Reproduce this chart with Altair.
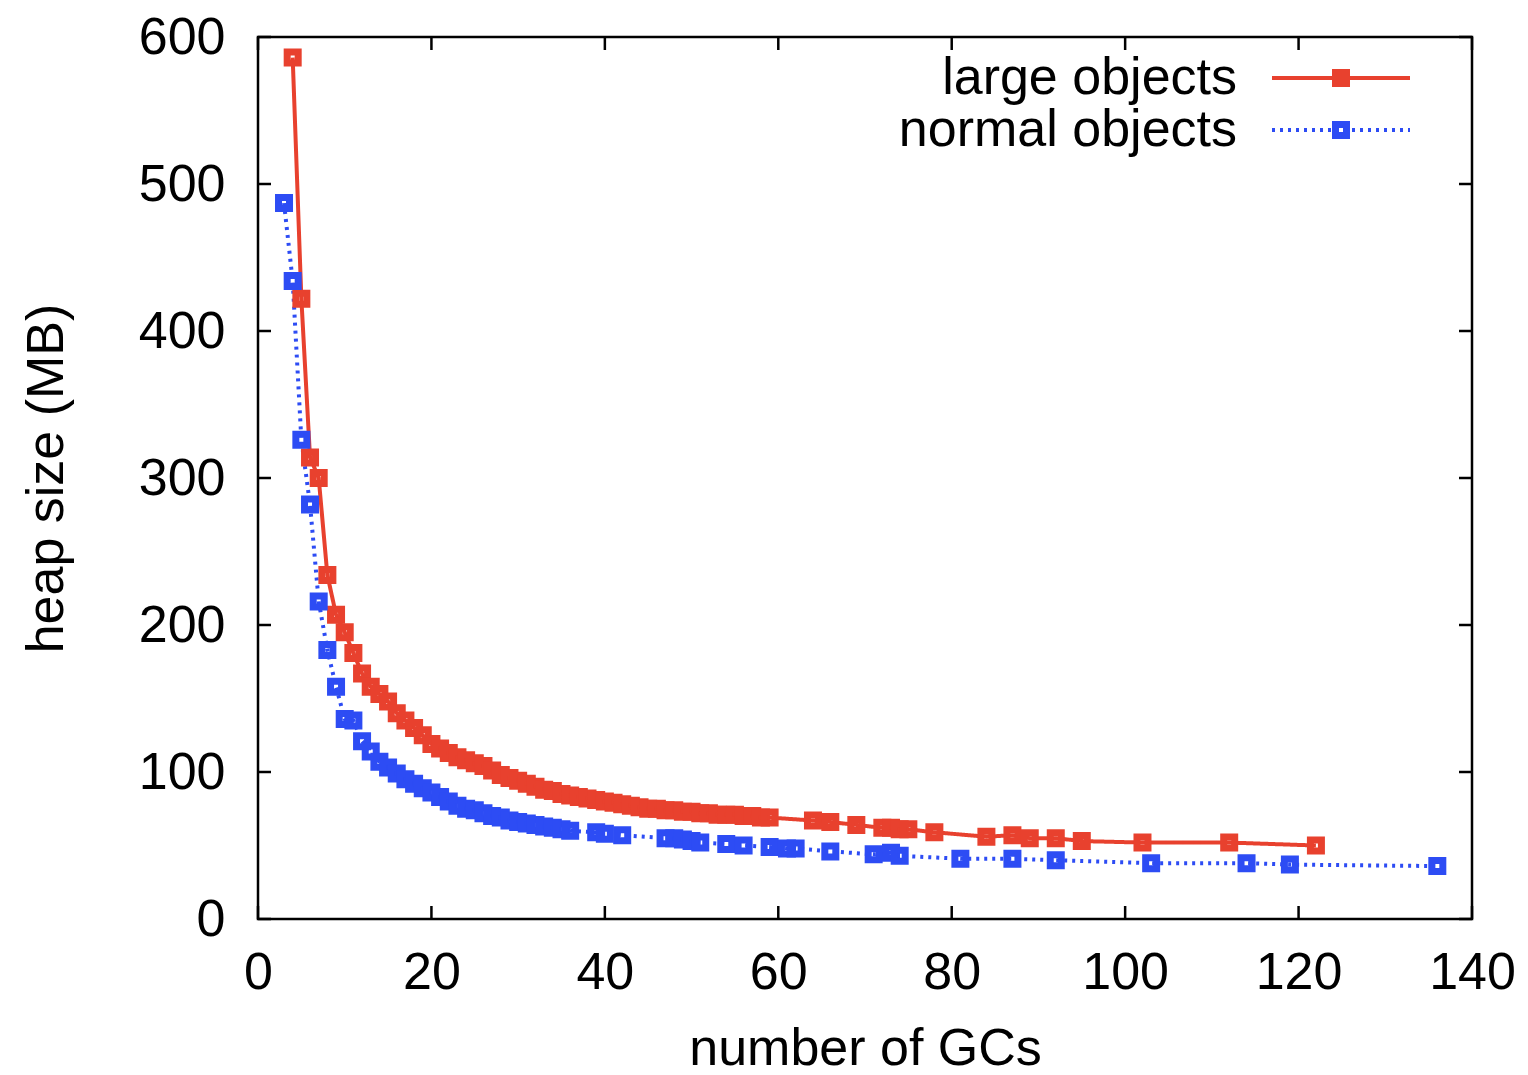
import altair as alt
import pandas as pd

# ---------------- data ----------------
series_names = ["large objects", "normal objects"]
series_colors = ["#e8412e", "#2d4cf4"]
series_dashes = [[1, 0], [3, 5]]

large_gcs = [4, 5, 6, 7, 8, 9, 10, 11, 12, 13,
             14, 15, 16, 17, 18, 19, 20, 21, 22, 23,
             24, 25, 26, 27, 28, 29, 30, 31, 32, 33,
             34, 35, 36, 37, 38, 39, 40, 41, 42, 43,
             44, 45, 46, 47, 48, 49, 50, 51, 52, 53,
             54, 55, 56, 57, 58, 59,
             64, 66, 69, 72, 73, 74, 75, 78, 84, 87, 89, 92, 95, 102, 112, 122]
large_heap = [586, 422, 314, 300, 234, 207, 195, 181, 167, 158,
              153, 148, 140, 135, 130, 125, 119, 116, 113, 110,
              108, 106, 104, 101, 98, 96, 94, 92, 90, 88,
              87, 85, 84, 83, 82, 81, 80, 79, 78, 77,
              76, 75, 75, 74, 74, 73, 73, 72, 72, 71,
              71, 71, 70, 70, 69, 69,
              67, 66, 64, 62, 62, 61, 61, 59, 56, 57, 55, 55, 53, 52, 52, 50]

normal_gcs = [3, 4, 5, 6, 7, 8, 9, 10, 11, 12,
              13, 14, 15, 16, 17, 18, 19, 20, 21, 22,
              23, 24, 25, 26, 27, 28, 29, 30, 31, 32,
              33, 34, 35, 36,
              39, 40, 42, 47, 48, 49, 50, 51, 54, 56, 59, 61, 62, 66, 71, 73, 74,
              81, 87, 92, 103, 114, 119, 136]
normal_heap = [487, 434, 326, 282, 216, 183, 158, 136, 135, 121,
               114, 107, 103, 99, 95, 92, 89, 86, 83, 80,
               77, 75, 74, 72, 70, 69, 67, 66, 65, 64,
               63, 62, 61, 60,
               59, 58, 57, 55, 55, 54, 53, 52, 51, 50, 49, 48, 48, 46, 44, 45, 43,
               41, 41, 40, 38, 38, 37, 36]

x_ticks = [0, 20, 40, 60, 80, 100, 120, 140]
y_ticks = [0, 100, 200, 300, 400, 500, 600]

df = pd.concat([
    pd.DataFrame({"gcs": large_gcs, "heap": large_heap, "series": series_names[0]}),
    pd.DataFrame({"gcs": normal_gcs, "heap": normal_heap, "series": series_names[1]}),
], ignore_index=True)

# ---------------- style ----------------
W, H = 1214, 882
FONT = "Liberation Sans"
FS = 52
TICK = 13
LINE_W = 4
PT_SIZE = 121
PT_STROKE = 7

x_scale = alt.Scale(domain=[0, 140], nice=False, zero=False)
y_scale = alt.Scale(domain=[0, 600], nice=False)
color_scale = alt.Scale(domain=series_names, range=series_colors)
dash_scale = alt.Scale(domain=series_names, range=series_dashes)

x_axis = alt.Axis(
    title="number of GCs", values=x_ticks, format="d", tickSize=0, domain=False, grid=False,
    labelFont=FONT, labelFontSize=FS, labelColor="black", labelPadding=28,
    labelOverlap=False, labelFlush=False,
    titleFont=FONT, titleFontSize=FS, titleFontWeight="normal", titleColor="black",
    titlePadding=25,
)
y_axis = alt.Axis(
    title="heap size (MB)", values=y_ticks, format="d", tickSize=0, domain=False, grid=False,
    labelFont=FONT, labelFontSize=FS, labelColor="black", labelPadding=33,
    labelOverlap=False, labelFlush=False,
    titleFont=FONT, titleFontSize=FS, titleFontWeight="normal", titleColor="black",
    titlePadding=65,
)

X = alt.X("gcs:Q", scale=x_scale, axis=x_axis)
Y = alt.Y("heap:Q", scale=y_scale, axis=y_axis)

base = alt.Chart(df).encode(x=X, y=Y)

lines = base.mark_line(strokeWidth=LINE_W, strokeCap="butt").encode(
    color=alt.Color("series:N", scale=color_scale, legend=None),
    strokeDash=alt.StrokeDash("series:N", scale=dash_scale, legend=None),
    detail="series:N",
)

points = base.mark_point(shape="square", filled=False, size=PT_SIZE,
                         strokeWidth=PT_STROKE, opacity=1).encode(
    color=alt.Color("series:N", scale=color_scale, legend=None),
)

# inward ticks on all four sides (gnuplot style), placed by the same scales
xt = pd.DataFrame({"gcs": x_ticks})
yt = pd.DataFrame({"heap": y_ticks})
tick_style = dict(color="black", strokeWidth=2.5)

bottom_ticks = alt.Chart(xt).mark_rule(**tick_style).encode(
    x=X, y=alt.value(H), y2=alt.value(H - TICK))
top_ticks = alt.Chart(xt).mark_rule(**tick_style).encode(
    x=X, y=alt.value(0), y2=alt.value(TICK))
left_ticks = alt.Chart(yt).mark_rule(**tick_style).encode(
    y=Y, x=alt.value(0), x2=alt.value(TICK))
right_ticks = alt.Chart(yt).mark_rule(**tick_style).encode(
    y=Y, x=alt.value(W), x2=alt.value(W - TICK))

# gnuplot-style key in the top-right corner: right-aligned label, then sample
KEY_TEXT_X, KEY_X1, KEY_X2, KEY_Y0, KEY_DY = 979, 1014, 1152, 41, 52
key_layers = []
for i, name in enumerate(series_names):
    kdf = pd.DataFrame({"series": [name]})
    ky = KEY_Y0 + KEY_DY * i
    key_layers.append(
        alt.Chart(kdf).mark_text(align="right", baseline="middle", font=FONT,
                                 fontSize=FS, color="black").encode(
            text="series:N", x=alt.value(KEY_TEXT_X), y=alt.value(ky)))
    key_layers.append(
        alt.Chart(kdf).mark_rule(color=series_colors[i], strokeWidth=LINE_W,
                                 strokeDash=series_dashes[i], strokeCap="butt").encode(
            x=alt.value(KEY_X1), x2=alt.value(KEY_X2), y=alt.value(ky)))
    key_layers.append(
        alt.Chart(kdf).mark_point(shape="square", filled=False, size=PT_SIZE,
                                  strokeWidth=PT_STROKE, color=series_colors[i],
                                  opacity=1).encode(
            x=alt.value((KEY_X1 + KEY_X2) / 2), y=alt.value(ky)))

chart = alt.layer(
    lines, points, bottom_ticks, top_ticks, left_ticks, right_ticks, *key_layers
).properties(
    width=W, height=H,
    autosize=alt.AutoSizeParams(type="none"),
    padding={"left": 258, "top": 37, "right": 56, "bottom": 156},
    background="white",
).configure_view(
    stroke="black", strokeWidth=2.5,
)

chart.save("out.html", embed_options={"renderer": "svg", "actions": False})
